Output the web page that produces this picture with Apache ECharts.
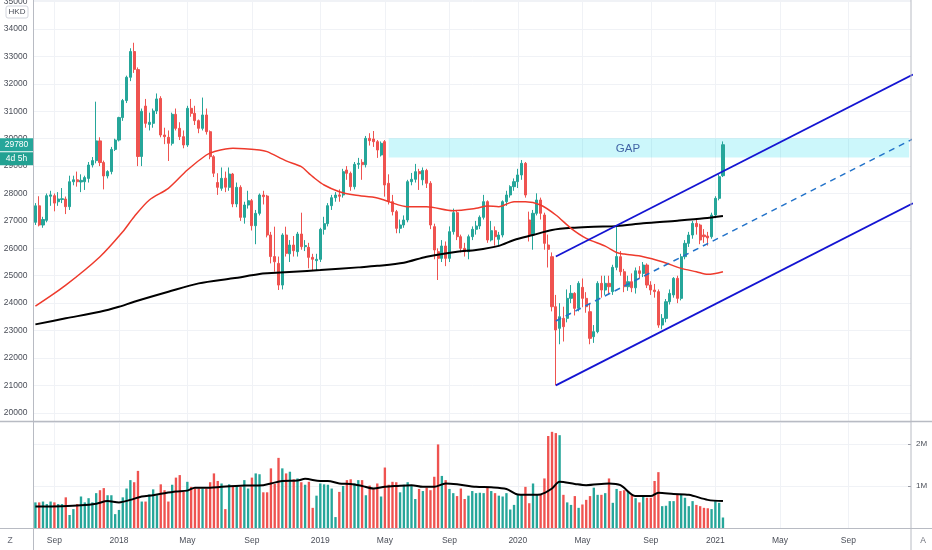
<!DOCTYPE html>
<html><head><meta charset="utf-8">
<script src="https://cdn.jsdelivr.net/npm/echarts/dist/echarts.min.js"></script>
<style>html,body{margin:0;padding:0;background:#fff}#c{width:932px;height:550px}</style>
</head><body><div id="c"></div>
<script>
// ---- data (weekly bars, HKD) ----
const firstWeek = '2017-07-31';
const totalWeeks = 231;
const opens = [26950,27550,26850,27020,27900,27920,27700,27780,27800,27520,
28430,28500,28420,28430,28550,29040,29200,29920,29130,28640,
28800,29610,29950,30770,31390,32240,33180,32520,29350,31190,
30520,30560,31010,31470,30135,30050,29831,30889,30378,30074,
29770,31108,30925,30658,30378,30865,30256,29344,28400,28190,
28560,28225,28710,27620,28225,27130,27580,27738,26826,27276,
27945,27908,26485,25700,25450,24660,26485,25800,26120,25877,
26522,26060,26036,25670,25550,25597,26692,26900,27556,27847,
27950,27945,28857,28736,28249,29064,29137,29050,30013,29990,
29891,29406,29892,28372,27703,27338,26729,26851,27033,28432,
28518,28800,28500,28840,28372,26790,25876,25634,26085,25634,
26608,27301,26425,25999,25878,26425,26693,26815,27131,27703,
26304,26644,26328,26486,27703,27946,28250,28432,28676,29101,
27033,26486,27277,27763,27216,26121,25695,23870,23080,23445,
23445,24175,24357,23810,24576,24175,23688,22776,22960,24722,
24479,24722,24420,25306,25694,25147,24600,24782,24560,25180,
25086,25390,24660,24478,24420,23200,23444,24052,24300,24904,
24174,25694,26181,26485,26911,26850,26485,26450,26424,27215,
27823,28650];
const closes = [27550,26850,27050,27920,27950,27650,27800,27810,27520,28430,
28500,28430,28480,28580,29040,29200,29920,29130,28640,28800,
29610,29950,30770,31390,32240,33180,32530,29350,31000,30560,
30600,31010,31450,30135,30074,29831,30889,30378,30074,29770,
31108,30925,30658,30378,30865,30256,29344,28740,28225,28553,
28230,28710,27620,28225,27130,27580,27738,26826,27276,27945,
27884,26485,25700,25510,24660,26485,25816,26120,25913,26522,
26060,26100,25670,25600,25600,26692,26900,27556,27847,27945,
27900,28796,28736,28249,29064,29100,29050,30013,29928,29891,
29587,29831,28311,27703,27338,26729,26851,27033,28432,28518,
28797,28720,28840,28372,26851,25939,25634,26085,25634,26608,
27301,26425,25999,25878,26425,26693,26815,27131,27703,26304,
26644,26425,26486,27703,27946,28250,28432,28676,29101,27946,
26486,27277,27763,27277,26182,25963,23870,23019,23505,23140,
24175,24357,23810,24722,24175,23870,22715,22960,24722,24479,
24722,24600,25306,25700,25147,24600,24782,24560,25180,25086,
25390,24660,24478,24420,23200,23444,24052,24356,24904,24174,
25694,26181,26485,26911,26789,26303,26424,26380,27215,27823,
28614,29780];
const highs = [27650,27900,27150,28000,28100,28000,28050,28200,27890,28650,
28650,28800,28700,28650,29150,29330,31350,30050,29200,28850,
29700,30000,30800,31450,32300,33300,33500,32600,31100,31450,
30950,31100,31650,31550,30400,30300,30950,31100,30600,30300,
31200,31450,31200,30700,31500,31100,30300,29400,28740,28950,
28800,28950,28750,28400,28300,27700,28100,27800,27400,28000,
28100,27950,26600,26790,25700,26550,26789,26300,26450,26600,
27300,26300,26200,25800,25800,26750,27150,27650,27950,28050,
28150,28900,29000,28800,29150,29300,29250,30100,30200,30280,
29950,29900,29950,28700,27950,27400,27050,27200,28500,28750,
29080,28900,28950,28900,28450,26900,26000,26300,26250,26800,
27450,27400,26500,26200,26500,26800,27000,27200,27950,27750,
27000,26800,26600,27750,28100,28300,28550,28900,29223,29150,
27338,27400,28007,27850,27300,26500,25850,24300,24000,23870,
24500,24660,24400,24800,24900,24400,24000,23200,24800,25000,
25000,25000,25400,26790,25900,25250,25000,25086,25300,25350,
25500,25450,24800,24700,24500,23600,24150,24500,24950,25000,
25800,26300,26600,27000,27100,26900,26700,26600,27300,27900,
28700,29900];
const lows = [26850,26800,26750,26950,27550,27350,27550,27650,27250,27400,
28300,28250,28050,28130,28400,28950,29100,29000,28150,28550,
28700,29550,29900,30650,31300,32100,32400,29000,29000,30400,
30300,30400,30900,30050,29800,29186,29750,30300,29950,29650,
29700,30800,30500,30200,30300,30150,29250,28600,27950,28100,
28050,28100,27500,27500,27000,26900,27450,26650,26150,27200,
27600,26400,25450,25150,24480,24500,25700,25500,25700,25700,
25950,25900,25270,25200,25180,25500,26500,26800,27400,27700,
27700,27850,28500,28100,28150,28900,28500,28950,29750,29700,
29300,29350,27885,27600,27200,26550,26550,26750,26950,28300,
28400,28130,28300,28200,26700,25600,24844,25500,25350,25500,
26500,26300,25850,25700,25600,26300,26500,26700,27050,26200,
26250,26100,26100,26400,27550,27850,28100,28200,28500,27850,
26250,25950,27200,27050,25950,25300,23700,21000,22500,22600,
23300,24000,23550,23700,23850,23650,22500,22550,22900,24200,
24300,24300,24300,25200,25000,24400,24450,24400,24350,24900,
24950,24550,24300,24200,23100,23050,23300,23950,24200,24000,
24100,25600,26050,26350,26500,26150,26200,26100,26350,27100,
27750,28600];
const volumesM = [0.61,0.61,0.63,0.57,0.63,0.61,0.57,0.57,0.73,0.31,
0.45,0.57,0.75,0.61,0.71,0.61,0.83,0.90,0.95,0.78,
0.78,0.33,0.43,0.73,0.94,1.14,1.09,1.36,0.63,0.63,
0.80,0.92,0.78,1.04,0.90,0.63,1.03,1.20,1.26,0.86,
1.10,0.98,0.94,0.94,0.94,0.94,1.09,1.30,1.12,1.06,
0.45,1.04,1.00,1.00,0.98,1.14,0.94,1.20,1.30,1.28,
0.85,0.85,1.42,1.05,1.67,1.42,1.30,1.34,1.16,1.18,
1.09,1.03,1.10,0.48,0.77,1.06,1.04,1.03,0.94,0.26,
0.86,1.00,1.14,1.16,1.06,1.14,1.14,0.78,1.01,0.94,
1.06,0.75,1.44,1.03,1.10,1.09,0.85,1.03,1.09,1.01,
0.69,0.93,0.88,0.96,0.90,1.22,1.99,1.24,1.14,0.93,
0.83,0.76,0.94,0.69,0.77,0.88,0.83,0.84,0.83,0.98,
0.88,0.83,0.77,0.75,0.83,0.44,0.55,0.79,0.79,0.98,
0.59,1.06,0.79,0.79,1.18,2.19,2.29,2.26,2.21,0.79,
0.61,0.55,0.76,0.48,0.56,0.67,0.76,0.96,0.79,0.79,
0.83,1.18,0.60,0.93,0.88,0.90,0.88,0.80,0.71,0.61,
0.76,0.72,0.72,1.12,1.33,0.52,0.53,0.64,0.64,0.79,
0.79,0.72,0.52,0.64,0.55,0.52,0.48,0.47,0.45,0.64,
0.60,0.25];
// moving averages (bar index, value)
const maRedBars = [0,8,17,23,26,30,35,40,45,47,52,59,61,66,70,72,73,76,80,84,90,93,98,103,110,116,119,122,126,129,133,137,141,145,150,153,155,160,165,170,174,177,181];
const maRedVals = [23894,24660,25694,26606,27153,27763,28190,28858,29405,29526,29650,29588,29526,29190,28978,28736,28613,28310,28066,27945,27840,27703,27520,27520,27374,27459,27544,27520,27703,27703,27581,27216,26729,26364,26080,25850,25790,25694,25512,25268,25147,25050,25147];
const maBlackBars = [0,8,17,22,26,35,43,52,59,61,68,75,85,90,97,103,111,116,122,126,131,136,142,147,153,160,169,176,181];
const maBlackVals = [23226,23445,23686,23868,24051,24416,24721,24905,25062,25088,25147,25208,25305,25360,25476,25695,25878,25938,26090,26303,26486,26668,26754,26790,26810,26911,27008,27093,27178];
const volMaBars = [0,7,12,16,19,22,25,28,31,34,37,40,42,46,49,55,60,62,65,69,71,75,77,80,83,86,89,92,95,99,102,105,108,111,116,120,124,127,131,133,136,138,142,145,151,154,158,162,164,168,172,177,181];
const volMaVals = [0.51,0.52,0.54,0.58,0.64,0.61,0.67,0.75,0.78,0.83,0.87,0.89,0.96,0.96,0.98,1.01,1.02,1.06,1.12,1.13,1.17,1.12,1.12,1.06,1.05,1.00,0.94,0.98,1.00,1.02,0.98,0.98,1.06,1.04,0.98,0.97,0.93,0.80,0.79,0.80,0.94,1.10,1.05,1.02,1.06,1.02,0.76,0.76,0.84,0.81,0.79,0.67,0.64];
// drawings
const channelBars = [137, 230.5];
const channelLower = [21000, 27639];
const channelMid = [23350, 29989];
const channelUpper = [25700, 32339];
const gapBars = [92.5, 230.5];
const gapPrices = [29310, 30015];
const gapText = 'GAP';
const gapTextAt = [156, 29640];
const currency = 'HKD';
const countdown = '4d 5h';
const monthNames = ['2018','Feb','Mar','Apr','May','Jun','Jul','Aug','Sep','Oct','Nov','Dec'];
const labelMonths = [0,4,8];

// ---- build ----
const UP = '#26a69a', DOWN = '#ef5350';
const base = Date.UTC(2017,6,31);
const dates = [];
for (let i = 0; i < totalWeeks; i++) {
  const d = new Date(base + i*7*86400000);
  dates.push(d.toISOString().slice(0,10));
}
function isTick(i){
  const d = new Date(base + i*7*86400000), p = new Date(base + (i-1)*7*86400000);
  return d.getUTCMonth() !== p.getUTCMonth() && labelMonths.indexOf(d.getUTCMonth()) >= 0;
}
function tickText(i){
  const d = new Date(base + i*7*86400000);
  const m = d.getUTCMonth();
  return m === 0 ? String(d.getUTCFullYear()) : monthNames[m];
}
const candles = opens.map((o,i)=>[o, closes[i], lows[i], highs[i]]);
const vols = volumesM.map((v,i)=>({value: v, itemStyle:{color: closes[i] >= opens[i] ? UP : DOWN}}));
const pairs = (b,v)=>b.map((x,i)=>[x, v[i]]);
const FONT = 'Liberation Sans, Arial, sans-serif';
const LBL = '#4a4e58';
const GRIDC = '#f0f2f6';

const chart = echarts.init(document.getElementById('c'), null, {renderer:'canvas'});
const option = {
  animation: false,
  backgroundColor: '#ffffff',
  textStyle: {fontFamily: FONT},
  grid: [
    {left: 33.5, top: 0, width: 877.5, height: 421, outerBoundsMode: 'none', containLabel: false},
    {left: 33.5, top: 422, width: 877.5, height: 106, outerBoundsMode: 'none', containLabel: false}
  ],
  xAxis: [
    {type:'category', gridIndex:0, data: dates, boundaryGap:true,
     axisLine:{show:false}, axisTick:{show:false}, axisLabel:{show:false},
     splitLine:{show:true, interval:(i)=>isTick(i), alignWithLabel:true, lineStyle:{color:GRIDC, width:1}}},
    {type:'category', gridIndex:1, data: dates, boundaryGap:true,
     axisLine:{show:false}, axisTick:{show:false},
     axisLabel:{show:true, interval:(i)=>isTick(i), formatter:(v,i)=>tickText(i), color:LBL, fontSize:8.5, margin:8, fontFamily:FONT},
     splitLine:{show:true, interval:(i)=>isTick(i), alignWithLabel:true, lineStyle:{color:GRIDC, width:1}}}
  ],
  yAxis: [
    {type:'value', gridIndex:0, position:'left', min:19700, max:35060, splitNumber:15, minInterval:1000, maxInterval:1000, scale:true,
     axisLine:{show:false}, axisTick:{show:false},
     axisLabel:{color:LBL, fontSize:8.5, margin:6, showMinLabel:false, showMaxLabel:false, formatter:(v)=>String(v), fontFamily:FONT},
     splitLine:{show:true, lineStyle:{color:GRIDC, width:1}}},
    {type:'value', gridIndex:1, position:'right', min:0, max:2.524, interval:1,
     axisLine:{show:false}, axisTick:{show:true, inside:true, length:3, lineStyle:{color:'#9598a1'}},
     axisLabel:{color:LBL, fontSize:8, margin:5, showMaxLabel:false, formatter:(v)=> v===0 ? '' : v+'M', fontFamily:FONT},
     splitLine:{show:true, lineStyle:{color:GRIDC, width:1}}}
  ],
  series: [
    {name:'gap', type:'line', xAxisIndex:0, yAxisIndex:0, data:[], z:1, silent:true,
     markArea:{silent:true, itemStyle:{color:'rgba(0,214,236,0.2)'},
       data:[[{coord:[gapBars[0], gapPrices[1]]},{coord:[gapBars[1], gapPrices[0]]}]]}},
    {name:'price', type:'candlestick', xAxisIndex:0, yAxisIndex:0, data:candles, z:2, barWidth:'68%',
     itemStyle:{color:UP, color0:DOWN, borderColor:UP, borderColor0:DOWN, borderWidth:1}},
    {name:'ma slow', type:'line', xAxisIndex:0, yAxisIndex:0, data:pairs(maBlackBars, maBlackVals), z:3,
     showSymbol:false, smooth:0.3, lineStyle:{color:'#000000', width:2}},
    {name:'ma fast', type:'line', xAxisIndex:0, yAxisIndex:0, data:pairs(maRedBars, maRedVals), z:3,
     showSymbol:false, smooth:0.3, lineStyle:{color:'#ee3a2c', width:1.5}},
    {name:'channel upper', type:'line', xAxisIndex:0, yAxisIndex:0, data:pairs(channelBars, channelUpper), z:4,
     showSymbol:false, lineStyle:{color:'#1414d2', width:1.8}},
    {name:'channel lower', type:'line', xAxisIndex:0, yAxisIndex:0, data:pairs(channelBars, channelLower), z:4,
     showSymbol:false, lineStyle:{color:'#1414d2', width:1.8}},
    {name:'channel mid', type:'line', xAxisIndex:0, yAxisIndex:0, data:pairs(channelBars, channelMid), z:4,
     showSymbol:false, lineStyle:{color:'#2272c9', width:1.5, type:[6,5]}},
    {name:'gap label', type:'scatter', xAxisIndex:0, yAxisIndex:0, data:[gapTextAt], symbolSize:0, z:5, silent:true,
     label:{show:true, position:'inside', formatter:gapText, color:'#1d3c8f', fontSize:11.5, fontFamily:FONT}},
    {name:'volume', type:'bar', xAxisIndex:1, yAxisIndex:1, data:vols, barWidth:'62%', z:2},
    {name:'vol ma', type:'line', xAxisIndex:1, yAxisIndex:1, data:pairs(volMaBars, volMaVals), z:3,
     showSymbol:false, smooth:0.3, lineStyle:{color:'#000000', width:2}}
  ]
};
chart.setOption(option);

const lastClose = closes[closes.length-1];
const py = chart.convertToPixel({yAxisIndex:0}, lastClose);
const BORDER = '#b8bbc3';
chart.setOption({graphic: [
  {type:'line', shape:{x1:33.5,y1:0,x2:33.5,y2:550}, style:{stroke:BORDER, lineWidth:1}, z:50},
  {type:'line', shape:{x1:911,y1:0,x2:911,y2:550}, style:{stroke:BORDER, lineWidth:1}, z:50},
  {type:'line', shape:{x1:0,y1:421.5,x2:932,y2:421.5}, style:{stroke:BORDER, lineWidth:1.5}, z:50},
  {type:'line', shape:{x1:0,y1:528.5,x2:932,y2:528.5}, style:{stroke:BORDER, lineWidth:1}, z:50},
  {type:'rect', shape:{x:6,y:6,width:22,height:12,r:2}, style:{fill:'#ffffff', stroke:'#d1d4dc', lineWidth:1}, z:60},
  {type:'text', x:17, y:12, style:{text:currency, fill:LBL, font:'8px '+FONT, align:'center', verticalAlign:'middle'}, z:61},
  {type:'rect', shape:{x:0,y:py-6.5,width:33,height:13}, style:{fill:UP}, z:60},
  {type:'text', x:16.5, y:py, style:{text:String(lastClose), fill:'#ffffff', font:'8.5px '+FONT, align:'center', verticalAlign:'middle'}, z:61},
  {type:'rect', shape:{x:0,y:py+7.5,width:33,height:13}, style:{fill:'#22a192'}, z:60},
  {type:'text', x:16.5, y:py+14, style:{text:countdown, fill:'#ffffff', font:'8.5px '+FONT, align:'center', verticalAlign:'middle'}, z:61},
  {type:'text', x:10, y:541, style:{text:'Z', fill:'#6a6d78', font:'8.5px '+FONT, align:'center', verticalAlign:'middle'}, z:61},
  {type:'text', x:923, y:541, style:{text:'A', fill:'#6a6d78', font:'8.5px '+FONT, align:'center', verticalAlign:'middle'}, z:61}
]});
</script>
</body></html>
